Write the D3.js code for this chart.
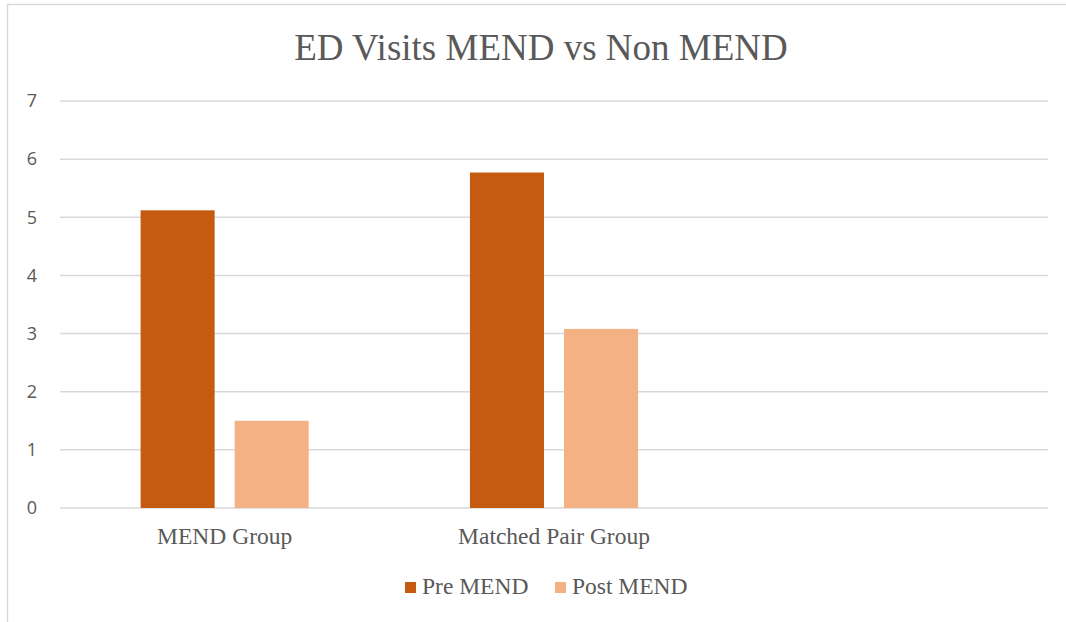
<!DOCTYPE html>
<html>
<head>
<meta charset="utf-8">
<script src="https://cdn.jsdelivr.net/npm/d3@7"></script>
<style>
  body { margin: 0; background: #fff; }
  svg { display: block; }
</style>
</head>
<body>
<svg id="chart" width="1066" height="622"></svg>
<script>
var categories = ["MEND Group", "Matched Pair Group", ""];
var seriesNames = ["Pre MEND", "Post MEND"];
var preMend = [5.12, 5.77, null];
var postMend = [1.5, 3.08, null];
var yTicks = [0, 1, 2, 3, 4, 5, 6, 7];
var colors = ["#c55a11", "#f4b183"];

var width = 1066, height = 622;
var svg = d3.select("#chart");
var textColor = "#595959";

// frame (only left + top edges show in the picture)
svg.append("path")
    .attr("d", "M7.5,622 L7.5,4.5 L1066,4.5")
    .attr("fill", "none")
    .attr("stroke", "#d9d9d9")
    .attr("stroke-width", 1.5);

var plot = { left: 60, right: 1048, top: 101, bottom: 508 };

var x = d3.scaleBand()
    .domain(categories)
    .range([plot.left, plot.right])
    .padding(0);

var xInner = d3.scaleBand()
    .domain(seriesNames)
    .range([0, x.bandwidth()])
    .paddingInner(0.213)
    .paddingOuter(0.857);

var y = d3.scaleLinear()
    .domain([0, 7])
    .range([plot.bottom, plot.top]);

// gridlines
svg.append("g")
  .selectAll("line")
  .data(yTicks)
  .join("line")
    .attr("x1", plot.left)
    .attr("x2", plot.right)
    .attr("y1", function(d) { return y(d); })
    .attr("y2", function(d) { return y(d); })
    .attr("stroke", "#d9d9d9")
    .attr("stroke-width", 1.5);

// y axis labels
var yAxis = d3.axisLeft(y).tickValues(yTicks).tickFormat(d3.format("d")).tickSize(0).tickPadding(0);
var yg = svg.append("g")
    .attr("transform", "translate(37,0)")
    .call(yAxis);
yg.select(".domain").remove();
yg.selectAll("text")
    .attr("fill", textColor)
    .style("font-family", "'Open Sans', sans-serif")
    .style("font-size", "18px");

// bars
var rows = categories.map(function(c, i) {
  return { cat: c, values: [preMend[i], postMend[i]] };
});

var groups = svg.append("g")
  .selectAll("g")
  .data(rows)
  .join("g")
    .attr("transform", function(d) { return "translate(" + x(d.cat) + ",0)"; });

groups.selectAll("rect")
  .data(function(d) {
    return seriesNames.map(function(s, j) { return { s: s, j: j, v: d.values[j] }; })
      .filter(function(e) { return e.v != null; });
  })
  .join("rect")
    .attr("x", function(d) { return xInner(d.s); })
    .attr("width", xInner.bandwidth())
    .attr("y", function(d) { return y(d.v); })
    .attr("height", function(d) { return y(0) - y(d.v); })
    .attr("fill", function(d) { return colors[d.j]; });

// x axis labels
var xAxis = d3.axisBottom(x).tickSize(0).tickPadding(0);
var xg = svg.append("g")
    .attr("transform", "translate(0," + (plot.bottom + 19) + ")")
    .call(xAxis);
xg.select(".domain").remove();
xg.selectAll("text")
    .attr("fill", textColor)
    .style("font-family", "'Liberation Serif', 'Times New Roman', serif")
    .style("font-size", "23.5px");

// title
svg.append("text")
    .attr("x", 541)
    .attr("y", 60)
    .attr("text-anchor", "middle")
    .attr("fill", textColor)
    .style("font-family", "'Liberation Serif', 'Times New Roman', serif")
    .style("font-size", "37px")
    .text("ED Visits MEND vs Non MEND");

// legend
var legendX = [405, 555];
var legend = svg.append("g")
  .selectAll("g")
  .data(seriesNames)
  .join("g")
    .attr("transform", function(d, i) { return "translate(" + legendX[i] + ",582)"; });
legend.append("rect")
    .attr("width", 11)
    .attr("height", 11)
    .attr("fill", function(d, i) { return colors[i]; });
legend.append("text")
    .attr("x", 17)
    .attr("y", 12)
    .attr("fill", textColor)
    .style("font-family", "'Liberation Serif', 'Times New Roman', serif")
    .style("font-size", "23.5px")
    .text(function(d) { return d; });
</script>
</body>
</html>
